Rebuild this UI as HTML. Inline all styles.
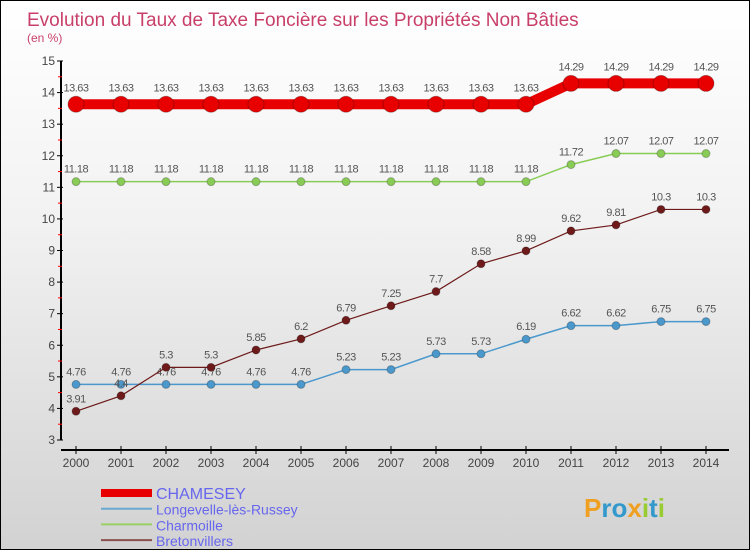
<!DOCTYPE html>
<html><head><meta charset="utf-8"><style>
body{margin:0}
#c{width:748px;height:548px;border:1px solid #000;background:linear-gradient(#fff 0%,#f2f2f2 40%,#d2d2d2 100%);position:relative;font-family:"Liberation Sans",sans-serif;overflow:hidden}
</style></head><body>
<div id="c">
<svg id="s" width="748" height="548" style="position:absolute;left:0;top:0">
<text x="26" y="25" font-size="19" fill="#c8406a">Evolution du Taux de Taxe Foncière sur les Propriétés Non Bâties</text>
<text x="26" y="41" font-size="12" fill="#c8406a">(en %)</text>
</svg>
</div>
<script>
const years=[2000,2001,2002,2003,2004,2005,2006,2007,2008,2009,2010,2011,2012,2013,2014];
const chamesey=[13.63,13.63,13.63,13.63,13.63,13.63,13.63,13.63,13.63,13.63,13.63,14.29,14.29,14.29,14.29];
const longevelle=[4.76,4.76,4.76,4.76,4.76,4.76,5.23,5.23,5.73,5.73,6.19,6.62,6.62,6.75,6.75];
const charmoille=[11.18,11.18,11.18,11.18,11.18,11.18,11.18,11.18,11.18,11.18,11.18,11.72,12.07,12.07,12.07];
const bretonvillers=[3.91,4.4,5.3,5.3,5.85,6.2,6.79,7.25,7.7,8.58,8.99,9.62,9.81,10.3,10.3];
const yTicks=[3,4,5,6,7,8,9,10,11,12,13,14,15];
const ns="http://www.w3.org/2000/svg",s=document.getElementById('s');
const X=i=>75+i*45, Y=v=>439-(v-3)*(379/12);
function el(t,a,p){const e=document.createElementNS(ns,t);for(const k in a)e.setAttribute(k,a[k]);(p||s).appendChild(e);return e;}
let ax=el('line',{x1:60,y1:Y(15),x2:60,y2:Y(3),stroke:'#000','stroke-width':2});


let xa=el('line',{x1:60,y1:449,x2:728,y2:449,stroke:'#000','stroke-width':2});


yTicks.forEach(v=>{
 el('line',{x1:56,y1:Y(v),x2:62,y2:Y(v),stroke:'#000'});
 if(v<15){el('line',{x1:57,y1:Y(v+0.5),x2:61,y2:Y(v+0.5),stroke:'#f00'});}
 const t=el('text',{x:54,y:Y(v)+4,'font-size':12,fill:'#444','text-anchor':'end'});t.textContent=v;
 
 
});
years.forEach((y,i)=>{
 el('line',{x1:X(i),y1:445,x2:X(i),y2:453,stroke:'#000'});
 const t=el('text',{x:X(i),y:466,'font-size':12,fill:'#444','text-anchor':'middle'});t.textContent=y;
 
 
});
function series(d,color,w,r,name){
 const g=el('g',{});
 
 
 el('polyline',{points:d.map((v,i)=>X(i)+','+Y(v)).join(' '),fill:'none',stroke:color,'stroke-width':w},g);
 d.forEach((v,i)=>{
  const c=el('circle',{cx:X(i),cy:Y(v),r:r,fill:color,stroke:'rgba(0,0,0,0.25)'},g);
  
  
  const t=el('text',{x:X(i),y:Y(v)-(r+5),'font-size':11,fill:'#555','text-anchor':'middle','letter-spacing':'-0.5'},g);
  t.textContent=String(v);
  
  
 });
}
series(longevelle,'#4a98cc',1.5,4,'longevelle');
series(bretonvillers,'#6e1a1a',1.2,4,'bretonvillers');
series(charmoille,'#88cc55',1.5,4,'charmoille');
series(chamesey,'#e80000',10,8,'chamesey');
const leg=[['CHAMESEY','#e80000',8],['Longevelle-lès-Russey','#6aa8d0',2],['Charmoille','#99d066',2],['Bretonvillers','#8a5050',2]];
leg.forEach((l,i)=>{
 const yy=492+i*15.7;
 const g=el('g',{});
 
 
 el('line',{x1:100,y1:yy,x2:151,y2:yy,stroke:l[1],'stroke-width':l[2]},g);
 const t=el('text',{x:155,y:yy+6,'font-size':i==0?16:14,fill:'#6666ee'},g);t.textContent=l[0];
});
const p=el('text',{x:583,y:516,'font-size':26,'font-weight':'bold',fill:'#3399cc'});
p.innerHTML='<tspan fill="#f0a020">P</tspan>ro<tspan fill="#f0a020">x</tspan><tspan fill="#99cc33">i</tspan>t<tspan fill="#99cc33">i</tspan>';


</script>
</body></html>
